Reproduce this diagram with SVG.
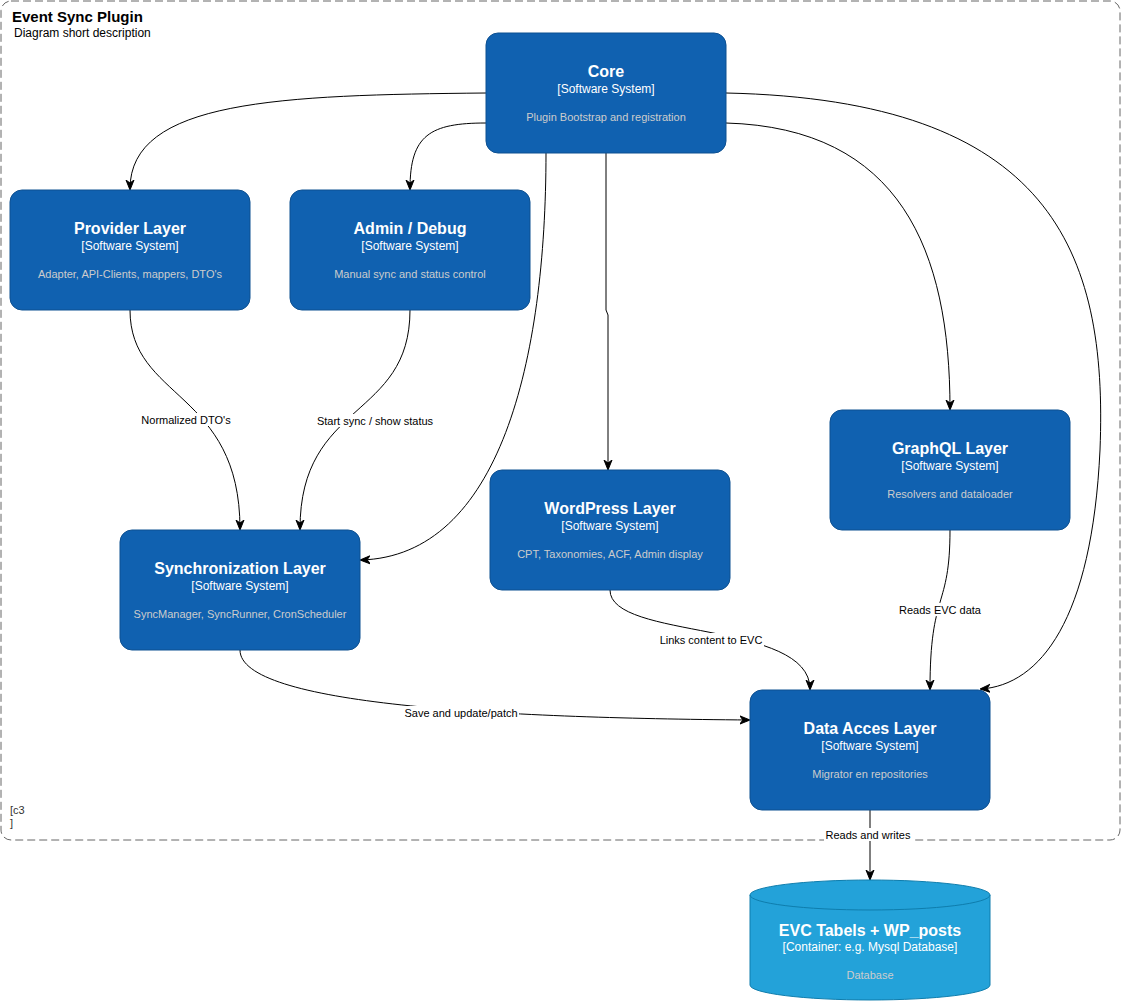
<svg xmlns="http://www.w3.org/2000/svg" width="1122" height="1002" viewBox="0 0 1122 1002">
<style>
.box{fill:#1061B0;stroke:#0D5091;stroke-width:1}
.db{fill:#23A2D9;stroke:#0E7DAD;stroke-width:1}
.t{font-family:"Liberation Sans",Arial,sans-serif;fill:#fff;font-weight:bold;font-size:16px;text-anchor:middle}
.s{font-family:"Liberation Sans",Arial,sans-serif;fill:#fff;font-size:12px;text-anchor:middle}
.d{font-family:"Liberation Sans",Arial,sans-serif;fill:#cccccc;font-size:11px;text-anchor:middle}
.e{fill:none;stroke:#000;stroke-width:1}
.l{font-family:"Liberation Sans",Arial,sans-serif;fill:#000;font-size:11px;text-anchor:middle}
.lb{fill:#fff}
</style>
<defs>
<marker id="arr" viewBox="0 0 10 10" refX="9" refY="5" markerWidth="10" markerHeight="10" markerUnits="userSpaceOnUse" orient="auto">
<path d="M0,1 L10,5 L0,9 L3,5 Z" fill="#000" stroke="#000" stroke-width="1"/>
</marker>
</defs>
<rect width="1122" height="1002" fill="#fff"/>
<g id="boundary">
<rect x="1" y="1" width="1119" height="839" rx="10" fill="none" stroke="#666" stroke-dasharray="8 4" stroke-width="1"/>
<text x="12" y="22" font-family="Liberation Sans,Arial,sans-serif" font-weight="bold" font-size="15" fill="#000">Event Sync Plugin</text>
<text x="14" y="37" font-family="Liberation Sans,Arial,sans-serif" font-size="12" fill="#000">Diagram short description</text>
<text x="10" y="814" font-family="Liberation Sans,Arial,sans-serif" font-size="11" fill="#333">[c3</text>
<text x="10" y="827" font-family="Liberation Sans,Arial,sans-serif" font-size="11" fill="#333">]</text>
</g>
<g id="connectors">
<path class="e" d="M486 93 C 280 95, 130 100, 130 189" marker-end="url(#arr)"/>
<path class="e" d="M486 123 C 430 123, 410 135, 410 189" marker-end="url(#arr)"/>
<path class="e" d="M546 153 C 546 360, 500 556, 361 560" marker-end="url(#arr)"/>
<path class="e" d="M606 153 L606 310 L608 315 L608 469" marker-end="url(#arr)"/>
<path class="e" d="M726 123 C 900 128, 950 250, 950 409" marker-end="url(#arr)"/>
<path class="e" d="M726 93 C 1050 100, 1108 250, 1100 450 C 1092 620, 1040 685, 981 689" marker-end="url(#arr)"/>
<path class="e" d="M130 310 C 130 400, 240 390, 240 529" marker-end="url(#arr)"/>
<path class="e" d="M410 310 C 410 420, 300 400, 300 529" marker-end="url(#arr)"/>
<path class="e" d="M610 590 C 610 640, 810 620, 810 689" marker-end="url(#arr)"/>
<path class="e" d="M950 530 C 950 610, 930 590, 930 689" marker-end="url(#arr)"/>
<path class="e" d="M240 650 C 240 705, 500 718, 749 720" marker-end="url(#arr)"/>
<path class="e" d="M870 810 L870 879" marker-end="url(#arr)"/>
<rect class="lb" x="139" y="413" width="94" height="13"/>
<text class="l" x="186" y="424">Normalized DTO's</text>
<rect class="lb" x="316" y="414" width="119" height="13"/>
<text class="l" x="375" y="425">Start sync / show status</text>
<rect class="lb" x="658" y="633" width="106" height="13"/>
<text class="l" x="711" y="644">Links content to EVC</text>
<rect class="lb" x="898" y="603" width="84" height="13"/>
<text class="l" x="940" y="614">Reads EVC data</text>
<rect class="lb" x="403" y="706" width="116" height="13"/>
<text class="l" x="461" y="717">Save and update/patch</text>
<rect class="lb" x="824" y="828" width="88" height="13"/>
<text class="l" x="868" y="839">Reads and writes</text>
</g>
<g id="core">
<rect class="box" x="486" y="33" width="240" height="120" rx="12"/>
<text class="t" x="606" y="77">Core</text>
<text class="s" x="606" y="93">[Software System]</text>
<text class="d" x="606" y="121">Plugin Bootstrap and registration</text>
</g>
<g id="provider">
<rect class="box" x="10" y="190" width="240" height="120" rx="12"/>
<text class="t" x="130" y="234">Provider Layer</text>
<text class="s" x="130" y="250">[Software System]</text>
<text class="d" x="130" y="278">Adapter, API-Clients, mappers, DTO's</text>
</g>
<g id="admin">
<rect class="box" x="290" y="190" width="240" height="120" rx="12"/>
<text class="t" x="410" y="234">Admin / Debug</text>
<text class="s" x="410" y="250">[Software System]</text>
<text class="d" x="410" y="278">Manual sync and status control</text>
</g>
<g id="sync">
<rect class="box" x="120" y="530" width="240" height="120" rx="12"/>
<text class="t" x="240" y="574">Synchronization Layer</text>
<text class="s" x="240" y="590">[Software System]</text>
<text class="d" x="240" y="618">SyncManager, SyncRunner, CronScheduler</text>
</g>
<g id="wordpress">
<rect class="box" x="490" y="470" width="240" height="120" rx="12"/>
<text class="t" x="610" y="514">WordPress Layer</text>
<text class="s" x="610" y="530">[Software System]</text>
<text class="d" x="610" y="558">CPT, Taxonomies, ACF, Admin display</text>
</g>
<g id="graphql">
<rect class="box" x="830" y="410" width="240" height="120" rx="12"/>
<text class="t" x="950" y="454">GraphQL Layer</text>
<text class="s" x="950" y="470">[Software System]</text>
<text class="d" x="950" y="498">Resolvers and dataloader</text>
</g>
<g id="dataaccess">
<rect class="box" x="750" y="690" width="240" height="120" rx="12"/>
<text class="t" x="870" y="734">Data Acces Layer</text>
<text class="s" x="870" y="750">[Software System]</text>
<text class="d" x="870" y="778">Migrator en repositories</text>
</g>
<g id="database">
<path class="db" d="M750 895 A120 15 0 0 1 990 895 L990 985 A120 15 0 0 1 750 985 Z"/>
<path d="M750 895 A120 15 0 0 0 990 895" fill="none" stroke="#0E7DAD" stroke-width="1"/>
<text class="t" x="870" y="936">EVC Tabels + WP_posts</text>
<text class="s" x="870" y="951">[Container: e.g. Mysql Database]</text>
<text class="d" x="870" y="979">Database</text>
</g>
</svg>
